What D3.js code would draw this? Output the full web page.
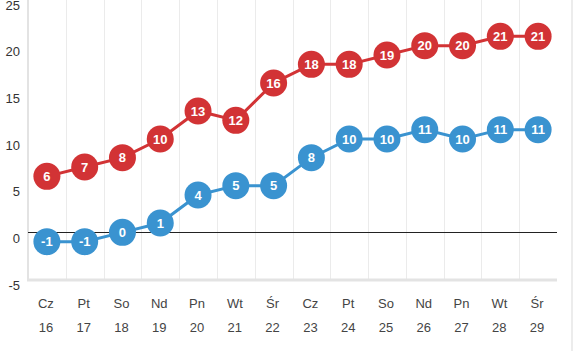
<!DOCTYPE html>
<html>
<head>
<meta charset="utf-8">
<script src="https://cdn.jsdelivr.net/npm/d3@7"></script>
<style>
  body { margin: 0; background: #fff; }
  svg { display: block; font-family: "Liberation Sans", Arial, sans-serif; }
</style>
</head>
<body>
<svg id="chart" width="573" height="351"></svg>
<script>
// categories (day name + day of month)
const dayNames = ['Cz', 'Pt', 'So', 'Nd', 'Pn', 'Wt', 'Śr', 'Cz', 'Pt', 'So', 'Nd', 'Pn', 'Wt', 'Śr']
const dayNums = ['16', '17', '18', '19', '20', '21', '22', '23', '24', '25', '26', '27', '28', '29']

// series values
const redValues = [6, 7, 8, 10, 13, 12, 16, 18, 18, 19, 20, 20, 21, 21]
const blueValues = [-1, -1, 0, 1, 4, 5, 5, 8, 10, 10, 11, 10, 11, 11]

// y tick labels
const yTicks = [-5, 0, 5, 10, 15, 20, 25]

const RED = '#d23335'
const BLUE = '#3a93d0'

const svg = d3.select('#chart')

const plotLeft = 28
const plotRight = 557
const plotBottom = 279

const x = d3.scaleBand()
  .domain(d3.range(dayNames.length))
  .range([plotLeft, plotRight])

const y = d3.scaleLinear()
  .domain([-5, 25])
  .range([plotBottom, -1])

/* ----------  GRID  ---------- */
svg.append('g')
  .selectAll('line')
  .data(d3.range(1, dayNames.length))
  .enter().append('line')
  .attr('x1', i => Math.round(x(i)) + 0.5)
  .attr('x2', i => Math.round(x(i)) + 0.5)
  .attr('y1', 0)
  .attr('y2', plotBottom)
  .attr('stroke', '#ebebeb')
  .attr('stroke-width', 1)

// left axis line
svg.append('line')
  .attr('x1', plotLeft).attr('x2', plotLeft)
  .attr('y1', 0).attr('y2', plotBottom + 2)
  .attr('stroke', '#e3e3e3')
  .attr('stroke-width', 2)

// bottom axis line
svg.append('line')
  .attr('x1', plotLeft - 1).attr('x2', plotRight)
  .attr('y1', plotBottom + 1).attr('y2', plotBottom + 1)
  .attr('stroke', '#e3e3e3')
  .attr('stroke-width', 3)

// zero line
svg.append('line')
  .attr('x1', plotLeft).attr('x2', plotRight)
  .attr('y1', Math.round(y(0)) + 0.5).attr('y2', Math.round(y(0)) + 0.5)
  .attr('stroke', '#222')
  .attr('stroke-width', 1)

// right edge strip
svg.append('rect')
  .attr('x', 571).attr('y', 0)
  .attr('width', 2).attr('height', 351)
  .attr('fill', '#ececec')

/* ----------  Y AXIS LABELS  ---------- */
const yAxis = svg.append('g')
  .attr('transform', `translate(20, 6)`)
  .call(d3.axisLeft(y).tickValues(yTicks).tickSize(0).tickPadding(0).tickFormat(d => String(d)))
yAxis.select('.domain').remove()
yAxis.selectAll('text')
  .style('font-size', '13px')
  .style('font-family', '"Liberation Sans", Arial, sans-serif')
  .attr('fill', '#333')

/* ----------  X AXIS LABELS  ---------- */
const xLabels = svg.append('g')
xLabels.selectAll('.day-name')
  .data(dayNames)
  .enter().append('text')
  .attr('class', 'day-name')
  .attr('x', (d, i) => x(i) + x.bandwidth() / 2 - 1)
  .attr('y', 308)
  .attr('text-anchor', 'middle')
  .style('font-size', '13px')
  .attr('fill', '#444')
  .text(d => d)

xLabels.selectAll('.day-num')
  .data(dayNums)
  .enter().append('text')
  .attr('class', 'day-num')
  .attr('x', (d, i) => x(i) + x.bandwidth() / 2 - 1)
  .attr('y', 332)
  .attr('text-anchor', 'middle')
  .style('font-size', '13px')
  .attr('fill', '#444')
  .text(d => d)

/* ----------  SERIES  ---------- */
function drawSeries (values, color, tag) {
  const line = d3.line()
    .x((d, i) => x(i) + x.bandwidth() / 2)
    .y(d => y(d))

  svg.append('path')
    .datum(values)
    .attr('d', line)
    .attr('fill', 'none')
    .attr('stroke', color)
    .attr('stroke-width', 3)

  const pts = svg.selectAll('.pt_' + tag)
    .data(values)
    .enter().append('g')
    .attr('class', 'pt_' + tag)
    .attr('transform', (d, i) => `translate(${x(i) + x.bandwidth() / 2}, ${y(d)})`)

  pts.append('circle')
    .attr('r', 13.5)
    .attr('fill', color)

  pts.append('text')
    .attr('text-anchor', 'middle')
    .attr('dy', '0.36em')
    .style('font-size', '13px')
    .style('font-weight', 'bold')
    .attr('fill', '#fff')
    .text(d => d)
}

drawSeries(blueValues, BLUE, 'blue')
drawSeries(redValues, RED, 'red')
</script>
</body>
</html>
